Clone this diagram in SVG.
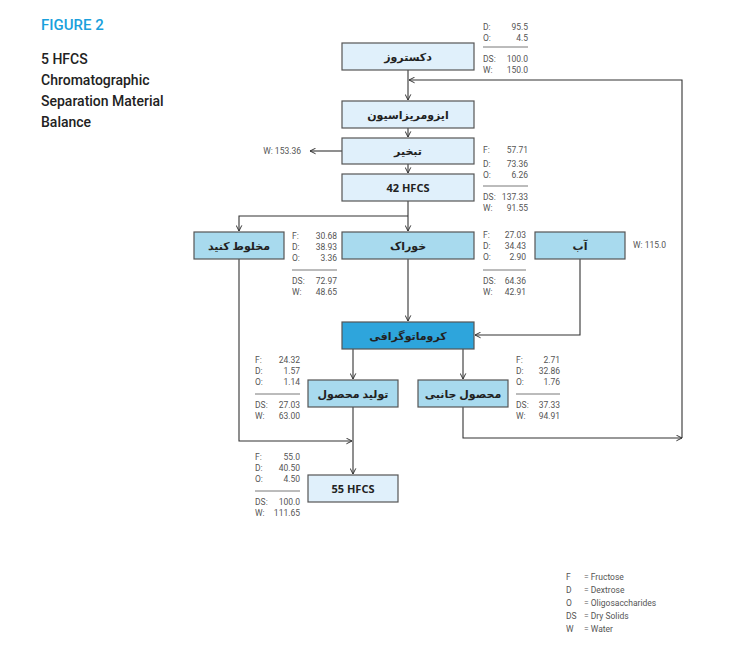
<svg xmlns="http://www.w3.org/2000/svg" width="733" height="658" viewBox="0 0 733 658">
<style>
.b{stroke:#555;stroke-width:1.2}
.l{fill:#e0f0fb}.m{fill:#a8daee}.d{fill:#2ea5dc}
.n{font-family:"Noto Sans","DejaVu Sans",sans-serif;font-weight:bold;font-size:11px;fill:#222;text-anchor:middle}
.t{font-family:Roboto,"Liberation Sans",sans-serif;font-size:8.5px;fill:#555}
.r{text-anchor:end}
.c{fill:none;stroke:#333;stroke-width:1.1}
.sep{stroke:#555;stroke-width:0.8}
</style>
<defs><marker id="a" viewBox="0 0 10 10" refX="9" refY="5" markerWidth="7" markerHeight="7" orient="auto" markerUnits="userSpaceOnUse"><path d="M1,1L9,5L1,9" fill="none" stroke="#333" stroke-width="1.4"/></marker></defs>
<rect width="733" height="658" fill="#fff"/>
<text x="41" y="30" font-family="Roboto,'Liberation Sans',sans-serif" font-size="15" font-weight="500" fill="#1aa0dc">FIGURE 2</text>
<g font-family="Roboto,'Liberation Sans',sans-serif" font-size="14" font-weight="500" fill="#222">
<text x="41" y="64">5 HFCS</text><text x="41" y="85">Chromatographic</text><text x="41" y="106">Separation Material</text><text x="41" y="127">Balance</text></g>
<g id="connectors" class="c">
<path d="M408,70V100" marker-end="url(#a)"/>
<path d="M682,438V80H409" marker-end="url(#a)"/>
<path d="M408,128V137" marker-end="url(#a)"/>
<path d="M408,164V173" marker-end="url(#a)"/>
<path d="M342,151H310" marker-end="url(#a)"/>
<path d="M408,201V231" marker-end="url(#a)"/>
<path d="M408,216H239V231" marker-end="url(#a)"/>
<path d="M408,259V321" marker-end="url(#a)"/>
<path d="M580,259V335H475" marker-end="url(#a)"/>
<path d="M353,349V379" marker-end="url(#a)"/>
<path d="M463,349V379" marker-end="url(#a)"/>
<path d="M239,259V441H352" marker-end="url(#a)"/>
<path d="M353,407V474" marker-end="url(#a)"/>
<path d="M463,407V438H682" marker-end="url(#a)"/>
</g>
<g id="dextrose"><rect class="b l" x="342" y="43" width="132" height="27"/><text class="n" x="408" y="61">دکستروز</text></g>
<g id="isomer"><rect class="b l" x="342" y="101" width="132" height="27"/><text class="n" x="408" y="119">ایزومریزاسیون</text></g>
<g id="evap"><rect class="b l" x="342" y="138" width="132" height="26"/><text class="n" x="408" y="155">تبخیر</text></g>
<g id="hfcs42"><rect class="b l" x="342" y="174" width="132" height="27"/><text class="n" x="408" y="192" font-size="12">42 HFCS</text></g>
<g id="mix"><rect class="b m" x="194" y="232" width="90" height="27"/><text class="n" x="239" y="250">مخلوط کنید</text></g>
<g id="feed"><rect class="b m" x="342" y="232" width="132" height="27"/><text class="n" x="408" y="250">خوراک</text></g>
<g id="water"><rect class="b m" x="535" y="232" width="90" height="27"/><text class="n" x="580" y="250">آب</text></g>
<g id="chrom"><rect class="b d" x="342" y="322" width="132" height="27"/><text class="n" x="408" y="340">کروماتوگرافی</text></g>
<g id="product"><rect class="b m" x="308" y="380" width="90" height="27"/><text class="n" x="353" y="398">تولید محصول</text></g>
<g id="side"><rect class="b m" x="418" y="380" width="90" height="27"/><text class="n" x="463" y="398">محصول جانبی</text></g>
<g id="hfcs55"><rect class="b l" x="308" y="475" width="90" height="27"/><text class="n" x="353" y="493" font-weight="normal" font-family="Roboto,'Liberation Sans',sans-serif">55 HFCS</text></g>
<g class="t">
<text x="483" y="30">D:</text><text class="r" x="528" y="30">95.5</text><text x="483" y="41">O:</text><text class="r" x="528" y="41">4.5</text><line class="sep" x1="483" x2="528" y1="47" y2="47"/><text x="483" y="62">DS:</text><text class="r" x="528" y="62">100.0</text><text x="483" y="73">W:</text><text class="r" x="528" y="73">150.0</text>
<text class="r" x="301" y="154">W: 153.36</text>
<text x="483" y="153">F:</text><text class="r" x="528" y="153">57.71</text><text x="483" y="167">D:</text><text class="r" x="528" y="167">73.36</text><text x="483" y="178">O:</text><text class="r" x="528" y="178">6.26</text><line class="sep" x1="483" x2="528" y1="186" y2="186"/><text x="483" y="200">DS:</text><text class="r" x="528" y="200">137.33</text><text x="483" y="211">W:</text><text class="r" x="528" y="211">91.55</text>
<text x="292" y="239">F:</text><text class="r" x="337" y="239">30.68</text><text x="292" y="250">D:</text><text class="r" x="337" y="250">38.93</text><text x="292" y="261">O:</text><text class="r" x="337" y="261">3.36</text><line class="sep" x1="292" x2="337" y1="270" y2="270"/><text x="292" y="284">DS:</text><text class="r" x="337" y="284">72.97</text><text x="292" y="295">W:</text><text class="r" x="337" y="295">48.65</text>
<text x="483" y="238">F:</text><text class="r" x="526" y="238">27.03</text><text x="483" y="249">D:</text><text class="r" x="526" y="249">34.43</text><text x="483" y="260">O:</text><text class="r" x="526" y="260">2.90</text><line class="sep" x1="483" x2="526" y1="270" y2="270"/><text x="483" y="284">DS:</text><text class="r" x="526" y="284">64.36</text><text x="483" y="295">W:</text><text class="r" x="526" y="295">42.91</text>
<text x="633" y="248">W: 115.0</text>
<text x="255" y="363">F:</text><text class="r" x="300" y="363">24.32</text><text x="255" y="374">D:</text><text class="r" x="300" y="374">1.57</text><text x="255" y="385">O:</text><text class="r" x="300" y="385">1.14</text><line class="sep" x1="255" x2="300" y1="394" y2="394"/><text x="255" y="408">DS:</text><text class="r" x="300" y="408">27.03</text><text x="255" y="419">W:</text><text class="r" x="300" y="419">63.00</text>
<text x="516" y="363">F:</text><text class="r" x="560" y="363">2.71</text><text x="516" y="374">D:</text><text class="r" x="560" y="374">32.86</text><text x="516" y="385">O:</text><text class="r" x="560" y="385">1.76</text><line class="sep" x1="516" x2="560" y1="394" y2="394"/><text x="516" y="408">DS:</text><text class="r" x="560" y="408">37.33</text><text x="516" y="419">W:</text><text class="r" x="560" y="419">94.91</text>
<text x="255" y="460">F:</text><text class="r" x="300" y="460">55.0</text><text x="255" y="471">D:</text><text class="r" x="300" y="471">40.50</text><text x="255" y="482">O:</text><text class="r" x="300" y="482">4.50</text><line class="sep" x1="255" x2="300" y1="491" y2="491"/><text x="255" y="505">DS:</text><text class="r" x="300" y="505">100.0</text><text x="255" y="516">W:</text><text class="r" x="300" y="516">111.65</text>
</g>
<g class="t" font-size="9.5" fill="#333">
<text x="566" y="580">F</text><text x="584" y="580">= Fructose</text>
<text x="566" y="593">D</text><text x="584" y="593">= Dextrose</text>
<text x="566" y="606">O</text><text x="584" y="606">= Oligosaccharides</text>
<text x="566" y="619">DS</text><text x="584" y="619">= Dry Solids</text>
<text x="566" y="632">W</text><text x="584" y="632">= Water</text>
</g>
</svg>
